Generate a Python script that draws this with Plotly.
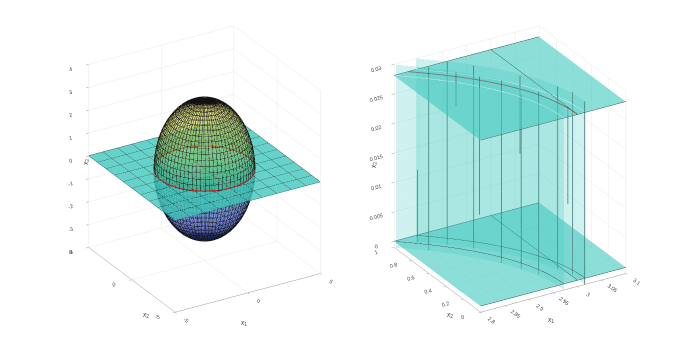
import numpy as np
import plotly.graph_objects as go

# left plot
sphere_r = 3
lat_deg = list(range(-90, 91, 5))
lon_deg = list(range(0, 361, 5))
plane_lines = [-5, -4, -3, -2, -1, 0, 1, 2, 3, 4, 5]
x1_ticks_l = [-5, 0, 5]
x2_ticks_l = [-5, 0, 5]
x3_ticks_l = [-4, -3, -2, -1, 0, 1, 2, 3, 4]

# right plot
x1_ticks_r = [2.8, 2.85, 2.9, 2.95, 3, 3.05, 3.1]
x2_ticks_r = [0, 0.2, 0.4, 0.6, 0.8, 1]
x3_ticks_r = [0, 0.005, 0.01, 0.015, 0.02, 0.025, 0.03]
top_z = 0.0281
r_inner = 2.972
r_outer = 3.016
r_mid = 3.0
curve_x2 = [0, 0.05, 0.1, 0.15, 0.2, 0.25, 0.3, 0.35, 0.4, 0.45, 0.5, 0.55, 0.6, 0.65, 0.7, 0.75, 0.8, 0.85, 0.9, 0.95, 0.99, 1]

# vertical lines
vline_x1 = [2.8461, 2.8474, 2.8864, 2.919, 2.9055, 2.9315, 2.9506, 2.9652, 3.0045, 3.0162, 3.015, 2.878, 2.969, 3.0125]
vline_x2 = [0.987, 0.865, 0.870, 0.745, 0.603, 0.495, 0.374, 0.253, 0.253, 0.149, 0.0, 0.7215, 0.491, 0.181]
vline_lo = [-0.001, -0.001, -0.001, -0.001, 0.0066, -0.001, -0.001, -0.001, -0.001, -0.001, -0.001, 0.02425, 0.0168, 0.0107]
vline_hi = [0.0113, 0.03, 0.03, 0.03, 0.03, 0.03, 0.0284, 0.03, 0.03, 0.03, 0.03, 0.03, 0.03, 0.027]

teal = "#40c8be"
flat = dict(ambient=1, diffuse=0, specular=0, roughness=1, fresnel=0)
sphere_cs = [[0, "#2a3ab0"], [0.25, "#4d69ea"], [0.5, "#14a269"], [0.7, "#9cc850"], [1, "#eed44d"]]
fig = go.Figure()


def plain(x, y, z, color, opacity, scene):
    fig.add_trace(go.Surface(x=x, y=y, z=z, surfacecolor=np.zeros_like(z), cmin=0, cmax=1,
                             colorscale=[[0, color], [1, color]], showscale=False, opacity=opacity,
                             lighting=flat, hoverinfo="skip", scene=scene))


def line(x, y, z, color, width, scene):
    fig.add_trace(go.Scatter3d(x=x, y=y, z=z, mode="lines", line=dict(color=color, width=width),
                               hoverinfo="skip", showlegend=False, scene=scene))


# ---- sphere + plane
lat = np.radians(lat_deg)
lon = np.radians(lon_deg)
LO, LA = np.meshgrid(lon, lat)
SX = sphere_r * np.cos(LA) * np.cos(LO)
SY = sphere_r * np.cos(LA) * np.sin(LO)
SZ = sphere_r * np.sin(LA)
mid = len(lat_deg) // 2

fig.add_trace(go.Surface(x=SX[:mid + 1], y=SY[:mid + 1], z=SZ[:mid + 1], surfacecolor=SZ[:mid + 1], cmin=-3, cmax=3,
                         colorscale=sphere_cs, showscale=False, opacity=0.45, lighting=flat,
                         hoverinfo="skip", scene="scene"))
plain([-5, 5], [-5, 5], np.zeros((2, 2)), teal, 0.8, "scene")
fig.add_trace(go.Surface(x=SX[mid:], y=SY[mid:], z=SZ[mid:], surfacecolor=SZ[mid:], cmin=-3, cmax=3,
                         colorscale=sphere_cs, showscale=False, opacity=0.45, lighting=flat,
                         hoverinfo="skip", scene="scene"))

mx, my, mz = [], [], []
for i in range(len(lat_deg)):
    mx += list(SX[i]) + [None]
    my += list(SY[i]) + [None]
    mz += list(SZ[i]) + [None]
for j in range(len(lon_deg)):
    mx += list(SX[:, j]) + [None]
    my += list(SY[:, j]) + [None]
    mz += list(SZ[:, j]) + [None]
line(mx, my, mz, "#111111", 1, "scene")

px, py, pz = [], [], []
for v in plane_lines:
    px += [v, v, None, -5, 5, None]
    py += [-5, 5, None, v, v, None]
    pz += [0.01, 0.01, None, 0.01, 0.01, None]
line(px, py, pz, "#1a5a58", 1, "scene")
line(list(sphere_r * np.cos(lon)), list(sphere_r * np.sin(lon)), [0.03] * len(lon), "#e02a2a", 2, "scene")

# ---- zoomed piece
c2 = np.array(curve_x2)
plain([2.8, 3.1], [0, 1], np.zeros((2, 2)), teal, 0.6, "scene2")
for r in [r_inner, r_outer]:
    keep = np.sqrt(r ** 2 - c2 ** 2) >= 2.8
    cx = np.sqrt(r ** 2 - c2[keep] ** 2)
    plain(np.vstack([cx, cx]), np.vstack([c2[keep], c2[keep]]),
          np.vstack([0 * cx - 0.001, 0 * cx + 0.03]), teal, 0.25, "scene2")
plain([2.8, 3.1], [0, 1], np.full((2, 2), top_z), teal, 0.6, "scene2")

for z0, col in [(0.00005, "#1f4f4d"), (top_z + 0.00005, "#b8ece8")]:
    for r in [r_inner, r_outer]:
        keep = np.sqrt(r ** 2 - c2 ** 2) >= 2.8
        line(list(np.sqrt(r ** 2 - c2[keep] ** 2)), list(c2[keep]), [z0] * int(keep.sum()), col, 1, "scene2")
line(list(np.sqrt(r_mid ** 2 - c2 ** 2)), list(c2), [top_z + 0.00005] * len(c2), "#7f6060", 2, "scene2")
line(list(np.sqrt(r_mid ** 2 - c2[:2] ** 2)), list(c2[:2]), [top_z + 0.00005] * 2, "#e02a2a", 2, "scene2")

ex, ey, ez = [], [], []
for z0 in [0.00005, top_z + 0.00005]:
    ex += [2.8, 3.1, None, 2.8, 3.1, None, 3, 3, None]
    ey += [0, 0, None, 1, 1, None, 0, 1, None]
    ez += [z0, z0, None, z0, z0, None, z0, z0, None]
line(ex, ey, ez, "#1f4f4d", 1, "scene2")

vx, vy, vz = [], [], []
for a, b, lo, hi in zip(vline_x1, vline_x2, vline_lo, vline_hi):
    vx += [a, a, None]
    vy += [b, b, None]
    vz += [lo, hi, None]
line(vx, vy, vz, "#37605e", 1.5, "scene2")


def ax(rng, ticks, line_on=True):
    return dict(range=rng, tickvals=ticks, ticktext=[str(t) for t in ticks], title=dict(text=""),
                showbackground=False, showgrid=True, gridcolor="#e8e8e8", gridwidth=1,
                zeroline=False, showline=line_on, linecolor="#999999", linewidth=1,
                ticks="outside", ticklen=3, tickcolor="#999999", tickfont=dict(size=8, color="#444444", family="Liberation Sans"),
                showspikes=False)


az = np.radians(-30.8)
el = np.radians(26.5)
eye_d = 1.52
eye = dict(x=eye_d * np.sin(az) * np.cos(el), y=-eye_d * np.cos(az) * np.cos(el), z=eye_d * np.sin(el))
cam = dict(eye=eye, center=dict(x=0, y=0, z=0), up=dict(x=0, y=0, z=1), projection=dict(type="orthographic"))

fig.update_layout(
    width=692, height=351, margin=dict(l=0, r=0, t=0, b=0), showlegend=False, paper_bgcolor="white",
    scene=dict(domain=dict(x=[32 / 692, 361 / 692], y=[29 / 351, 1]),
               xaxis=ax([-5, 5], x1_ticks_l), yaxis=ax([-5, 5], x2_ticks_l), zaxis=ax([-4, 4], x3_ticks_l, False),
               aspectmode="manual", aspectratio=dict(x=1.05, y=1.05, z=1.27), camera=cam),
    scene2=dict(domain=dict(x=[334 / 692, 670 / 692], y=[29 / 351, 1]),
                xaxis=ax([2.8, 3.1], x1_ticks_r), yaxis=ax([0, 1], x2_ticks_r), zaxis=ax([-0.001, 0.03], x3_ticks_r, False),
                aspectmode="manual", aspectratio=dict(x=1.05, y=1.05, z=1.27), camera=cam),
)

titles = [("<i>x</i><sub>1</sub>", 230, 321, 0), ("<i>x</i><sub>2</sub>", 132, 313, 0), ("<i>x</i><sub>3</sub>", 72, 155, -90),
          ("<i>x</i><sub>1</sub>", 548, 318, 0), ("<i>x</i><sub>2</sub>", 441, 313, 0), ("<i>x</i><sub>3</sub>", 366, 158, -90)]
for t, tx, ty, rot in titles:
    fig.add_annotation(text=t, x=tx / 692, y=1 - ty / 351, xref="paper", yref="paper", showarrow=False, textangle=rot,
                       font=dict(size=6.5, color="#444444", family="Liberation Sans"))

fig.write_html("out.html")
